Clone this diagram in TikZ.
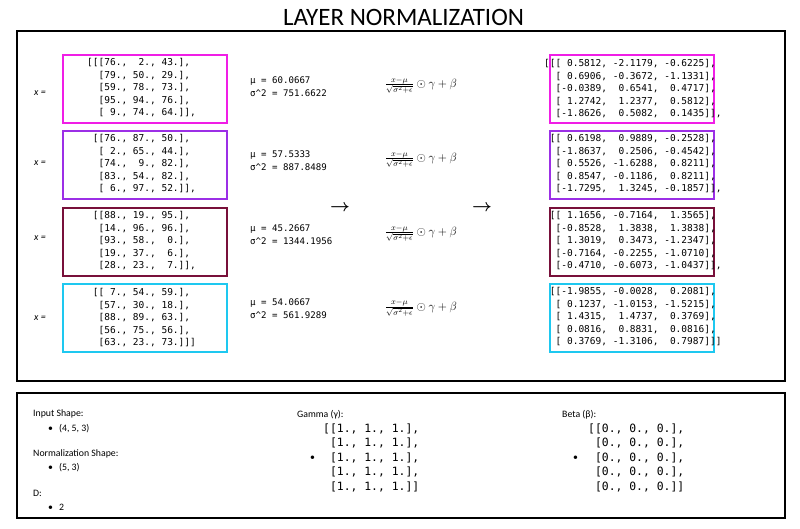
\documentclass[tikz,border=0pt]{standalone}
\usepackage{amsmath}
\usepackage{fontspec}
\newfontfamily\calib{Carlito}
\newfontfamily\monof{DejaVu Sans Mono}
\definecolor{magbox}{HTML}{F01EE6}
\definecolor{purbox}{HTML}{9C2FE6}
\definecolor{marbox}{HTML}{78103A}
\definecolor{cyabox}{HTML}{1EC8F0}
\tikzset{
  panel/.style={draw=black,line width=2.6pt},
  matbox/.style={draw=#1,line width=2.4pt,minimum width=164pt,minimum height=68pt,
                 inner sep=0pt,anchor=north west},
  mat/.style={font={\monof\fontsize{9.5}{12.6}\selectfont},align=left,anchor=north west,inner sep=0pt},
  bigmat/.style={font={\monof\fontsize{11.4}{14.5}\selectfont},align=left,anchor=north west,inner sep=0pt},
  stat/.style={font={\monof\fontsize{9.1}{13}\selectfont},align=left,anchor=west,inner sep=0pt},
  lbl/.style={anchor=base west,inner sep=0pt},
  xlab/.style={font={\calib\itshape\fontsize{10}{12}\selectfont},inner sep=0pt},
  formula/.style={font=\fontsize{12}{14}\selectfont,inner sep=0pt},
  arr/.style={font=\fontsize{16}{16}\selectfont,inner sep=0pt}
}
\frenchspacing
\begin{document}
\begin{tikzpicture}[x=1pt,y=-1pt,font={\calib\fontsize{9.8}{12}\selectfont}]
  \useasboundingbox (0,0) rectangle (800,528);
  \node[font={\calib\fontsize{25}{30}\selectfont},anchor=base] (title) at (403.5,25) {LAYER NORMALIZATION};
  \draw[panel] (17,31) rectangle (785,381);
  \draw[panel] (17,393) rectangle (785,518);
  \foreach \row/\yy/\col/\my/\xy/\mean/\vari in {1/54/magbox/86.5/93/60.0667/751.6622,
      2/129.5/purbox/160.5/163/57.5333/887.8489,3/206.5/marbox/234.5/238/45.2667/1344.1956,
      4/283/cyabox/309/318/54.0667/561.9289}{
    \node[matbox=\col] (in\row) at (62,\yy) {};
    \node[matbox=\col] (out\row) at (548.5,\yy) {};
    \node[xlab] (x\row) at (40,\xy) {x =};
    \node[stat] (stat\row) at (250,\my) {μ = \mean\\σ\textasciicircum 2 = \vari};
    \node[formula] (form\row) at (421,\my-1) {$\frac{x-\mu}{\sqrt{\sigma^2+\epsilon}}\odot\gamma+\beta$};
  }
  \node[mat] (inmat1) at (87,58) {[[[76.,~~2., 43.],\\~~[79., 50., 29.],\\~~[59., 78., 73.],\\~~[95., 94., 76.],\\~~[ 9., 74., 64.]],};
  \node[mat] (inmat2) at (87,134) {~[[76., 87., 50.],\\~~[ 2., 65., 44.],\\~~[74.,~~9., 82.],\\~~[83., 54., 82.],\\~~[ 6., 97., 52.]],};
  \node[mat] (inmat3) at (87,211) {~[[88., 19., 95.],\\~~[14., 96., 96.],\\~~[93., 58.,~~0.],\\~~[19., 37.,~~6.],\\~~[28., 23.,~~7.]],};
  \node[mat] (inmat4) at (87,288) {~[[ 7., 54., 59.],\\~~[57., 30., 18.],\\~~[88., 89., 63.],\\~~[56., 75., 56.],\\~~[63., 23., 73.]]]};
  \node[mat] (outmat1) at (544,59) {[[[ 0.5812, -2.1179, -0.6225],\\~~[ 0.6906, -0.3672, -1.1331],\\~~[-0.0389,~~0.6541,~~0.4717],\\~~[ 1.2742,~~1.2377,~~0.5812],\\~~[-1.8626,~~0.5082,~~0.1435]],};
  \node[mat] (outmat2) at (544,134) {~[[ 0.6198,~~0.9889, -0.2528],\\~~[-1.8637,~~0.2506, -0.4542],\\~~[ 0.5526, -1.6288,~~0.8211],\\~~[ 0.8547, -0.1186,~~0.8211],\\~~[-1.7295,~~1.3245, -0.1857]],};
  \node[mat] (outmat3) at (544,211) {~[[ 1.1656, -0.7164,~~1.3565],\\~~[-0.8528,~~1.3838,~~1.3838],\\~~[ 1.3019,~~0.3473, -1.2347],\\~~[-0.7164, -0.2255, -1.0710],\\~~[-0.4710, -0.6073, -1.0437]],};
  \node[mat] (outmat4) at (544,287) {~[[-1.9855, -0.0028,~~0.2081],\\~~[ 0.1237, -1.0153, -1.5215],\\~~[ 1.4315,~~1.4737,~~0.3769],\\~~[ 0.0816,~~0.8831,~~0.0816],\\~~[ 0.3769, -1.3106,~~0.7987]]]};
  \node[arr] (arrA) at (340,208) {$\boldsymbol{\rightarrow}$};
  \node[arr] (arrB) at (482,208) {$\boldsymbol{\rightarrow}$};
  % bottom panel
  \node[lbl] (inshape) at (33,416.5) {Input Shape:};
  \node[lbl] (inshapev) at (48,431.5) {\textbullet\hspace{6pt}(4, 5, 3)};
  \node[lbl] (normshape) at (33,456.5) {Normalization Shape:};
  \node[lbl] (normshapev) at (48,470.5) {\textbullet\hspace{6pt}(5, 3)};
  \node[lbl] (dlab) at (33,496.5) {D:};
  \node[lbl] (dval) at (48,510.5) {\textbullet\hspace{6pt}2};
  \node[lbl] (gamlab) at (297,417.5) {Gamma (γ):};
  \node[lbl] (gambul) at (310,460.5) {\textbullet};
  \node[bigmat] (gammat) at (323,423.5) {[[1., 1., 1.],\\~[1., 1., 1.],\\~[1., 1., 1.],\\~[1., 1., 1.],\\~[1., 1., 1.]]};
  \node[lbl] (betlab) at (562,417.5) {Beta (β):};
  \node[lbl] (betbul) at (573,460.5) {\textbullet};
  \node[bigmat] (betmat) at (588,423.5) {[[0., 0., 0.],\\~[0., 0., 0.],\\~[0., 0., 0.],\\~[0., 0., 0.],\\~[0., 0., 0.]]};
\end{tikzpicture}
\end{document}
